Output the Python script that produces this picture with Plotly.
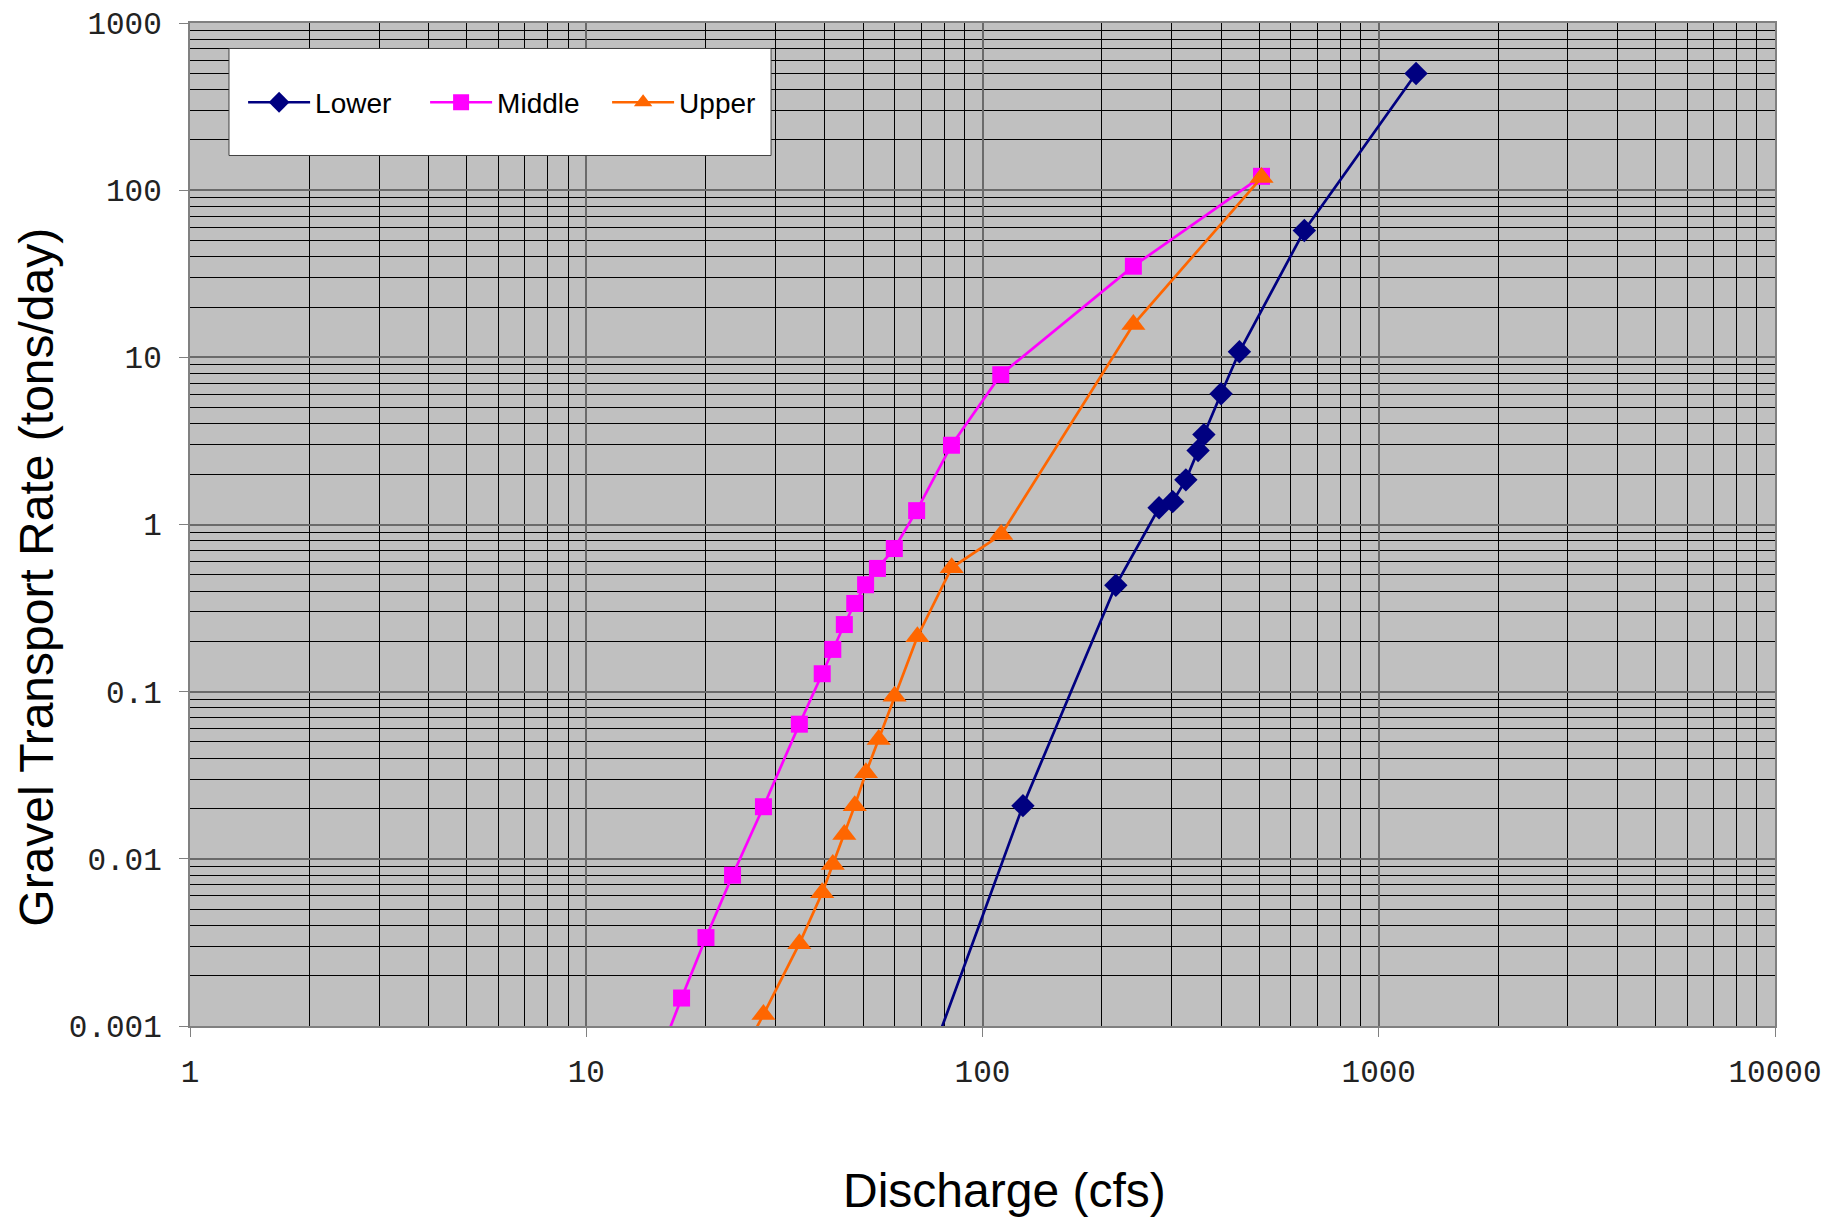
import plotly.graph_objects as go

# Discharge (cfs) and gravel transport rate (tons/day)
lower_q = [70, 126.5, 217, 279, 302, 326, 350, 362, 400, 445, 649, 1242]
lower_t = [0.00045, 0.0208, 0.433, 1.26, 1.37, 1.85, 2.77, 3.45, 6.05, 10.8, 57.4, 499]

middle_q = [15.0, 17.4, 20.05, 23.4, 28.0, 34.5, 39.4, 41.9, 44.8, 47.6, 50.7, 54.3, 59.9, 68.2, 83.5, 111.2, 240.3, 506]
middle_t = [0.00059, 0.00147, 0.00338, 0.00798, 0.0205, 0.0639, 0.128, 0.179, 0.252, 0.337, 0.436, 0.546, 0.718, 1.21, 2.98, 7.87, 35.1, 121]

upper_q = [25.0, 28.0, 34.5, 39.4, 41.9, 44.8, 47.6, 50.8, 54.7, 60.0, 68.5, 83.6, 111.5, 240.3, 506]
upper_t = [0.0007, 0.00117, 0.00311, 0.00626, 0.00925, 0.014, 0.0208, 0.0327, 0.0518, 0.094, 0.213, 0.551, 0.871, 15.7, 119]

x_ticks = [1, 10, 100, 1000, 10000]
x_ticklabels = ["1", "10", "100", "1000", "10000"]
y_ticks = [0.001, 0.01, 0.1, 1, 10, 100, 1000]
y_ticklabels = ["0.001", "0.01", "0.1", "1", "10", "100", "1000"]

x_minor = [k * 10 ** n for n in range(0, 4) for k in range(2, 10)]
y_minor = [k * 10.0 ** n for n in range(-3, 3) for k in range(2, 10)]

fig = go.Figure()
fig.add_trace(go.Scatter(x=lower_q, y=lower_t, name="Lower", mode="lines+markers",
                         line=dict(color="#000080", width=2.7),
                         marker=dict(symbol="diamond", size=18, color="#000080")))
fig.add_trace(go.Scatter(x=middle_q, y=middle_t, name="Middle", mode="lines+markers",
                         line=dict(color="#FF00FF", width=2.7),
                         marker=dict(symbol="square", size=17, color="#FF00FF")))
fig.add_trace(go.Scatter(x=upper_q, y=upper_t, name="Upper", mode="lines+markers",
                         line=dict(color="#FF6600", width=2.7),
                         marker=dict(symbol="triangle-up", size=21, color="#FF6600")))

tickfont = dict(family="Liberation Mono", size=31, color="#222222")
titlefont = dict(family="Liberation Sans", size=48, color="black")

fig.update_layout(
    width=1831, height=1210,
    margin=dict(l=182, r=64, t=15, b=192),
    paper_bgcolor="white",
    plot_bgcolor="#C0C0C0",
    showlegend=True,
    legend=dict(orientation="h", x=0.0335, y=0.9207, xanchor="left", yanchor="middle",
                bgcolor="rgba(0,0,0,0)", borderwidth=0,
                font=dict(family="Liberation Sans", size=28, color="black"),
                entrywidth=105, itemwidth=62),
    shapes=[dict(type="rect", xref="paper", yref="paper",
                 x0=0.0246, x1=0.3666, y0=0.8679, y1=0.9746,
                 fillcolor="white", line=dict(color="#404040", width=1), layer="above")],
    annotations=[
        dict(text="Gravel Transport Rate (tons/day)", xref="paper", yref="paper",
             x=-0.0965, y=0.447, xanchor="center", yanchor="middle", textangle=-90,
             showarrow=False, font=titlefont),
        dict(text="Discharge (cfs)", xref="paper", yref="paper",
             x=0.514, y=-0.164, xanchor="center", yanchor="middle",
             showarrow=False, font=titlefont),
    ],
    xaxis=dict(type="log", range=[0, 4], tickmode="array", tickvals=x_ticks, ticktext=x_ticklabels,
               tickfont=tickfont, ticks="outside", ticklen=9, tickcolor="#808080", tickwidth=1,
               ticklabelstandoff=8, ticklabeloverflow="allow",
               showgrid=True, gridcolor="#6A6A6A", gridwidth=2,
               minor=dict(tickmode="array", tickvals=x_minor, showgrid=True, gridcolor="black", gridwidth=1, ticks=""),
               showline=True, linecolor="#808080", linewidth=2, mirror=True, zeroline=False,
               automargin=False),
    yaxis=dict(type="log", range=[-3, 3], tickmode="array", tickvals=y_ticks, ticktext=y_ticklabels,
               tickfont=tickfont, ticks="outside", ticklen=9, tickcolor="#808080", tickwidth=1,
               ticklabelstandoff=11, ticklabeloverflow="allow",
               showgrid=True, gridcolor="#6A6A6A", gridwidth=2,
               minor=dict(tickmode="array", tickvals=y_minor, showgrid=True, gridcolor="black", gridwidth=1, ticks=""),
               showline=True, linecolor="#808080", linewidth=2, mirror=True, zeroline=False,
               automargin=False),
)

fig.write_html("out.html")
